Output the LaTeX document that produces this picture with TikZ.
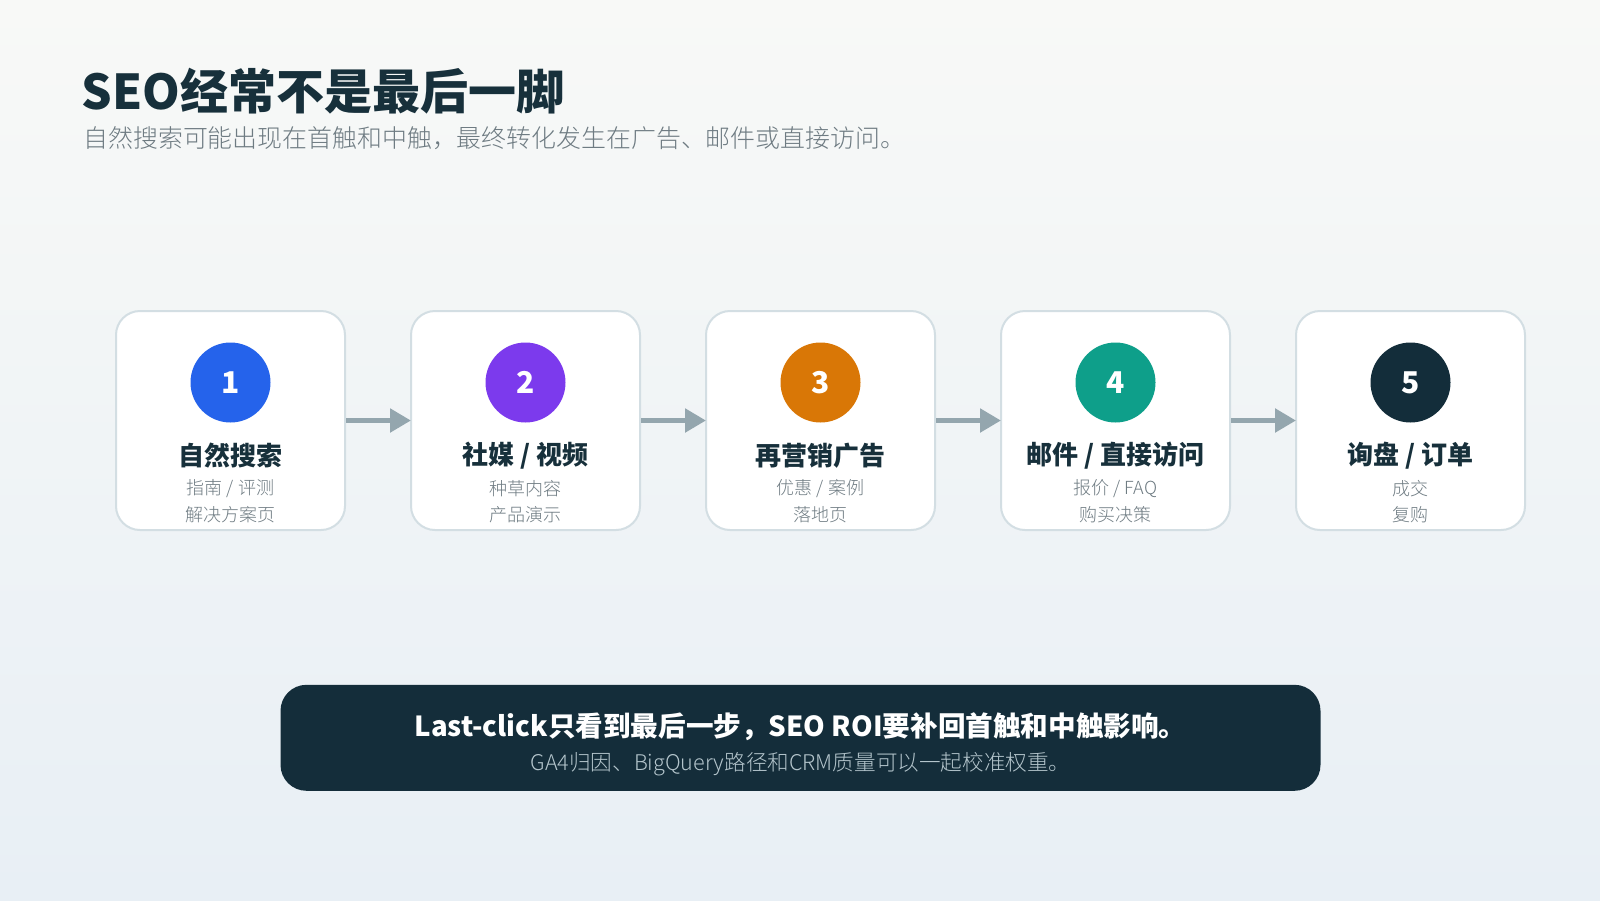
\documentclass[tikz,border=0pt]{standalone}
\usepackage{fontspec}
\setmainfont{Noto Sans CJK SC}
\IfFontExistsTF{Noto Sans CJK SC Light}{\newfontfamily\lightf{Noto Sans CJK SC Light}}{\newfontfamily\lightf{Noto Sans CJK SC}}
\usetikzlibrary{arrows.meta}
\definecolor{bgtop}{HTML}{F8F9F7}
\definecolor{bgbot}{HTML}{E8EFF5}
\definecolor{ink}{HTML}{17303B}
\definecolor{subink}{HTML}{6E7B82}
\definecolor{cardline}{HTML}{D3DEE3}
\definecolor{arrowc}{HTML}{94A6AE}
\definecolor{cblue}{HTML}{2563EB}
\definecolor{cpurple}{HTML}{7C3AED}
\definecolor{corange}{HTML}{D97706}
\definecolor{cteal}{HTML}{0E9F8A}
\definecolor{cdark}{HTML}{132D3A}
\definecolor{barc}{HTML}{142D3A}
\definecolor{barsub}{HTML}{B4C5CC}
\tikzset{
  card/.style={draw=cardline, line width=1pt, fill=white, rounded corners=12pt,
    minimum width=114.5pt, minimum height=109.5pt, inner sep=0pt},
  numc/.style={circle, fill=#1, minimum size=40pt, inner sep=0pt, text=white,
    font=\fontsize{15pt}{18pt}\selectfont\bfseries},
  ctitle/.style={text=ink, inner sep=0pt, font=\fontsize{13pt}{16pt}\selectfont\bfseries},
  csub/.style={text=subink, inner sep=0pt, font=\lightf\fontsize{9pt}{11pt}\selectfont},
  flow/.style={draw=arrowc, line width=2.6pt, -{Triangle[length=10.5pt,width=11.5pt]}, shorten >=-0.5pt}
}
\begin{document}
\begin{tikzpicture}[x=0.5pt,y=-0.5pt]
\shade[top color=bgtop, bottom color=bgbot] (0,0) rectangle (1600,900);
\useasboundingbox (0,0) rectangle (1600,900);
% title
\node[anchor=base west, inner sep=0pt, text=ink, font=\fontsize{24pt}{28pt}\selectfont\bfseries] (title) at (81,109) {SEO经常不是最后一脚};
\node[anchor=west, inner sep=0pt, text=subink, font=\lightf\fontsize{12.45pt}{14pt}\selectfont] (subtitle) at (83,138) {自然搜索可能出现在首触和中触，最终转化发生在广告、邮件或直接访问。};
% cards
\node[card] (c1) at (230.5,420.5) {};
\node[card] (c2) at (525.5,420.5) {};
\node[card] (c3) at (820.5,420.5) {};
\node[card] (c4) at (1115.5,420.5) {};
\node[card] (c5) at (1410.5,420.5) {};
% numbers
\node[numc=cblue] (n1) at (230.5,382.5) {1};
\node[numc=cpurple] (n2) at (525.5,382.5) {2};
\node[numc=corange] (n3) at (820.5,382.5) {3};
\node[numc=cteal] (n4) at (1115.5,382.5) {4};
\node[numc=cdark] (n5) at (1410.5,382.5) {5};
% titles
\node[ctitle] (t1) at (230.5,456) {自然搜索};
\node[ctitle] (t2) at (525.5,456) {社媒 / 视频};
\node[ctitle] (t3) at (820.5,456) {再营销广告};
\node[ctitle] (t4) at (1115.5,456) {邮件 / 直接访问};
\node[ctitle] (t5) at (1410.5,456) {询盘 / 订单};
% sub lines
\node[csub] (a1) at (230.5,489) {指南 / 评测};
\node[csub] (b1) at (230.5,515) {解决方案页};
\node[csub] (a2) at (525.5,489) {种草内容};
\node[csub] (b2) at (525.5,515) {产品演示};
\node[csub] (a3) at (820.5,489) {优惠 / 案例};
\node[csub] (b3) at (820.5,515) {落地页};
\node[csub] (a4) at (1115.5,489) {报价 / FAQ};
\node[csub] (b4) at (1115.5,515) {购买决策};
\node[csub] (a5) at (1410.5,489) {成交};
\node[csub] (b5) at (1410.5,515) {复购};
% arrows
\draw[flow] (c1.east) -- (c2.west);
\draw[flow] (c2.east) -- (c3.west);
\draw[flow] (c3.east) -- (c4.west);
\draw[flow] (c4.east) -- (c5.west);
% bottom bar
\node[fill=barc, rounded corners=13pt, minimum width=520pt, minimum height=53pt, inner sep=0pt] (bar) at (800.5,737.8) {};
\node[text=white, inner sep=0pt, font=\fontsize{13.8pt}{17pt}\selectfont\bfseries] (barmain) at (800.5,727) {Last-click只看到最后一步，SEO ROI要补回首触和中触影响。};
\node[text=barsub, inner sep=0pt, font=\lightf\fontsize{10.8pt}{13pt}\selectfont] (barsubt) at (800.5,764) {GA4归因、BigQuery路径和CRM质量可以一起校准权重。};
\end{tikzpicture}
\end{document}
